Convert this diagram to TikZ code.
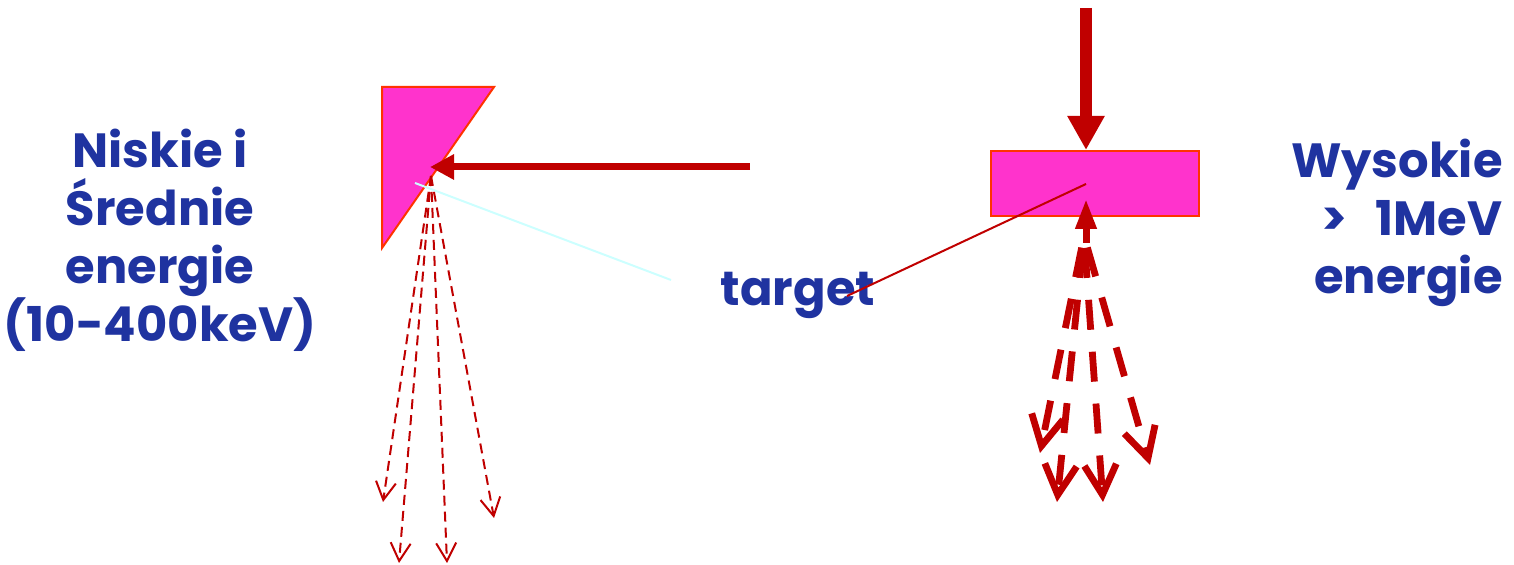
\documentclass[tikz,border=0pt]{standalone}
\usepackage{fontspec}
\setmainfont{Poppins}
\usetikzlibrary{arrows.meta}
\definecolor{dred}{RGB}{192,0,0}
\definecolor{mag}{RGB}{255,51,204}
\definecolor{orng}{RGB}{255,51,0}
\definecolor{lcyan}{RGB}{204,255,255}
\definecolor{tblue}{RGB}{31,51,160}
\tikzset{
  target/.style={fill=mag,draw=orng,line width=1pt},
  lbl/.style={text=tblue,font=\bfseries\fontsize{24}{29}\selectfont,inner sep=0pt},
  thinray/.style={draw=dred,line width=1pt,dash pattern=on 5pt off 3pt,-{Straight Barb[length=9pt,width=10pt]}},
  thickray/.style={draw=dred,line width=3.4pt,dash pattern=on 15pt off 11pt,dash phase=20pt,-{Straight Barb[length=15pt,width=16pt]}},
  beam/.style={draw=dred}
}
\begin{document}
\begin{tikzpicture}[x=0.5pt,y=-0.5pt]
\useasboundingbox (0,0) rectangle (1514,565);
% left target (triangle)
\path[target] (382,87) coordinate (t1) -- (494,87) coordinate (t2) -- (382,248) coordinate (t3) -- cycle;
\coordinate (lhit) at (430,167);
\coordinate (lsrc) at (750,167);
\draw[beam,line width=3.5pt,-{Triangle[length=12pt,width=12pt]}] (lsrc) -- (lhit);
\coordinate (lray) at (431,176);
\coordinate (le1) at (383,502);
\coordinate (le2) at (399,563);
\coordinate (le3) at (447,563);
\coordinate (le4) at (494,518);
\draw[thinray] (lray) -- (le1);
\draw[thinray] (lray) -- (le2);
\draw[thinray] (lray) -- (le3);
\draw[thinray] (lray) -- (le4);
% right target (rectangle)
\node[target,minimum width=104pt,minimum height=32.5pt,inner sep=0pt] (rt) at (1095,183.5) {};
\coordinate (rsrc) at (1086,8);
\draw[beam,line width=6pt,-{Triangle[length=17pt,width=17.5pt]}] (rsrc) -- (rt.north -| rsrc);
\coordinate (rbase) at (1086,243);
\coordinate (rtip) at (1086,199);
\draw[beam,line width=3.5pt,-{Triangle[length=15pt,width=10pt]}] (rbase) -- (rtip);
\coordinate (rray) at (1084,236);
\coordinate (re1) at (1040,453);
\coordinate (re2) at (1057,502);
\coordinate (re3) at (1103,502);
\coordinate (re4) at (1150,465);
\draw[thickray] (rray) -- (re1);
\draw[thickray] (rray) -- (re2);
\draw[thickray] (rray) -- (re3);
\draw[thickray] (rray) -- (re4);
% labels
\node[lbl,align=center] (low) at (160,240) {Niskie i\\Średnie\\energie\\(10-400keV)};
\node[lbl,align=right,anchor=east] (high) at (1503,223) {Wysokie\\>\hspace{0.6em}1MeV\\energie};
\node[lbl] (tgt) at (798,295) {target};
\coordinate (tgtA) at (847,296);
\coordinate (tgtB) at (671,280);
\draw[dred,line width=1pt] (tgtA) -- (1086,184);
\draw[lcyan,line width=1pt] (tgtB) -- (415,183);
\end{tikzpicture}
\end{document}
